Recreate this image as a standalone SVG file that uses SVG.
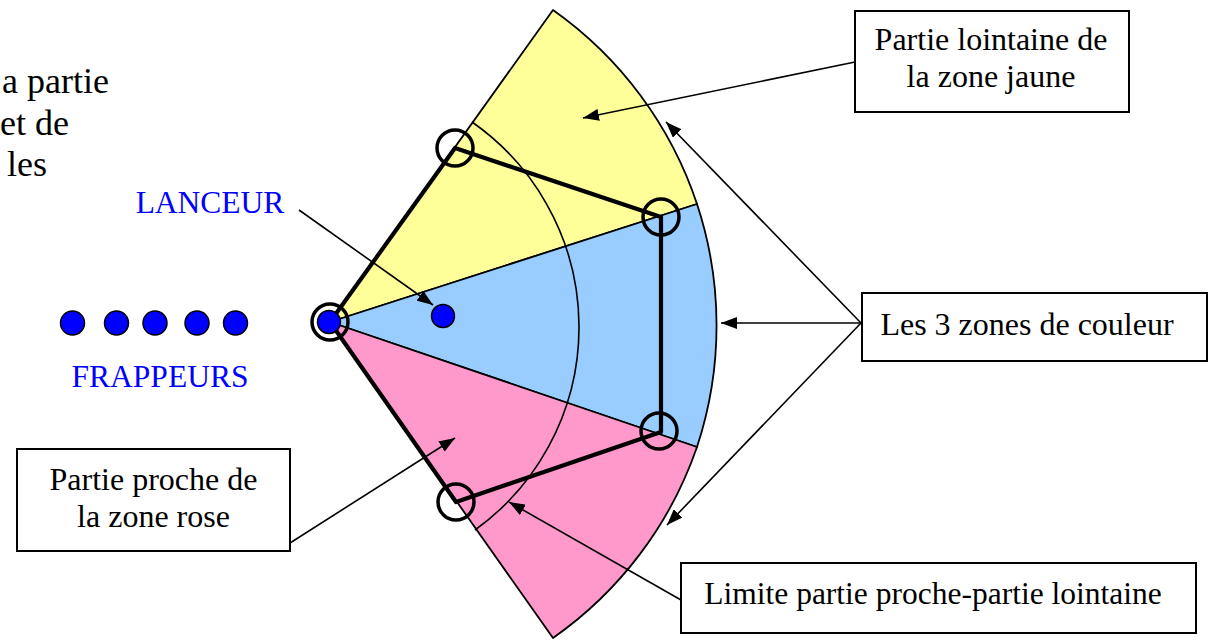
<svg xmlns="http://www.w3.org/2000/svg" width="1213" height="640" viewBox="0 0 1213 640">
<style>
.t{font-family:"Liberation Serif","Times New Roman",serif;font-size:32px;fill:#000}
.tl{font-family:"Liberation Serif","Times New Roman",serif;font-size:36px;fill:#000}
.b{font-family:"Liberation Serif","Times New Roman",serif;font-size:31.5px;fill:#0000FF}
.box{fill:#fff;stroke:#000;stroke-width:2}
.con{fill:none;stroke:#000;stroke-width:1.6;marker-end:url(#ah)}
.sec{stroke:#000;stroke-width:1.8;stroke-linejoin:round}
.ring{fill:none;stroke:#000;stroke-width:3.5}
.dot{fill:#0000FF;stroke:#000;stroke-width:1.5}
.thick{fill:none;stroke:#000;stroke-width:4.2;stroke-linejoin:round}
</style>
<defs>
<marker id="ah" markerWidth="16" markerHeight="12" refX="16" refY="6" orient="auto" markerUnits="userSpaceOnUse">
<path d="M0,0 L16,6 L0,12 Z" fill="#000"/>
</marker>
</defs>
<rect width="1213" height="640" fill="#fff"/>
<g id="intro-text">
<text class="tl" x="2" y="93">a partie</text>
<text class="tl" x="0" y="135">et de</text>
<text class="tl" x="7" y="176">les</text>
</g>
<g id="field">
<path id="zone-jaune" class="sec" fill="#FFFF99" d="M330,322 L553,10 A387,387 0 0,1 697,204 Z"/>
<path id="zone-bleue" class="sec" fill="#99CCFF" d="M330,322 L697,204 A387,387 0 0,1 697,447 Z"/>
<path id="zone-rose" class="sec" fill="#FF99CC" d="M330,322 L697,447 A387,387 0 0,1 553,638 Z"/>
<path id="limite" fill="none" stroke="#000" stroke-width="1.6" d="M472,122 A250,250 0 0,1 475,530"/>
<path id="trajet" class="thick" d="M330,322 L455,148 L661,217 L661,432 L456,502 Z"/>
</g>
<g id="bases">
<circle class="ring" cx="330" cy="322" r="18"/>
<circle class="ring" cx="455" cy="148" r="18"/>
<circle class="ring" cx="661" cy="217" r="18"/>
<circle class="ring" cx="659" cy="431" r="18"/>
<circle class="ring" cx="456" cy="502" r="18"/>
</g>
<g id="lanceur">
<circle class="dot" cx="443" cy="316" r="11.5"/>
<text class="b" x="210" y="213" text-anchor="middle">LANCEUR</text>
</g>
<g id="frappeurs">
<circle class="dot" cx="329" cy="322" r="11.5"/>
<circle class="dot" cx="72.5" cy="323" r="12"/>
<circle class="dot" cx="116.5" cy="323" r="12"/>
<circle class="dot" cx="155" cy="323" r="12"/>
<circle class="dot" cx="197" cy="323" r="12"/>
<circle class="dot" cx="235.5" cy="323" r="12"/>
<text class="b" x="160" y="387" text-anchor="middle">FRAPPEURS</text>
</g>
<g id="connectors">
<line class="con" x1="299" y1="210" x2="433" y2="305"/>
<line class="con" x1="855" y1="62" x2="583" y2="118"/>
<line class="con" x1="861" y1="323" x2="666" y2="122"/>
<line class="con" x1="861" y1="323" x2="721" y2="323"/>
<line class="con" x1="861" y1="323" x2="667" y2="525"/>
<line class="con" x1="290" y1="543" x2="455" y2="438"/>
<line class="con" x1="681" y1="600" x2="509" y2="502"/>
</g>
<g id="box-lointaine">
<rect class="box" x="855" y="11" width="274" height="101"/>
<text class="t" x="991" y="50" text-anchor="middle">Partie lointaine de</text>
<text class="t" x="991" y="87" text-anchor="middle">la zone jaune</text>
</g>
<g id="box-zones">
<rect class="box" x="862" y="293" width="345" height="68"/>
<text class="t" x="1027" y="335" text-anchor="middle">Les 3 zones de couleur</text>
</g>
<g id="box-proche">
<rect class="box" x="17" y="449" width="273" height="102"/>
<text class="t" x="153.5" y="490" text-anchor="middle">Partie proche de</text>
<text class="t" x="153.5" y="527" text-anchor="middle">la zone rose</text>
</g>
<g id="box-limite">
<rect class="box" x="681" y="563" width="515" height="70"/>
<text class="t" x="933" y="604" text-anchor="middle" style="font-size:31.5px">Limite partie proche-partie lointaine</text>
</g>
</svg>
